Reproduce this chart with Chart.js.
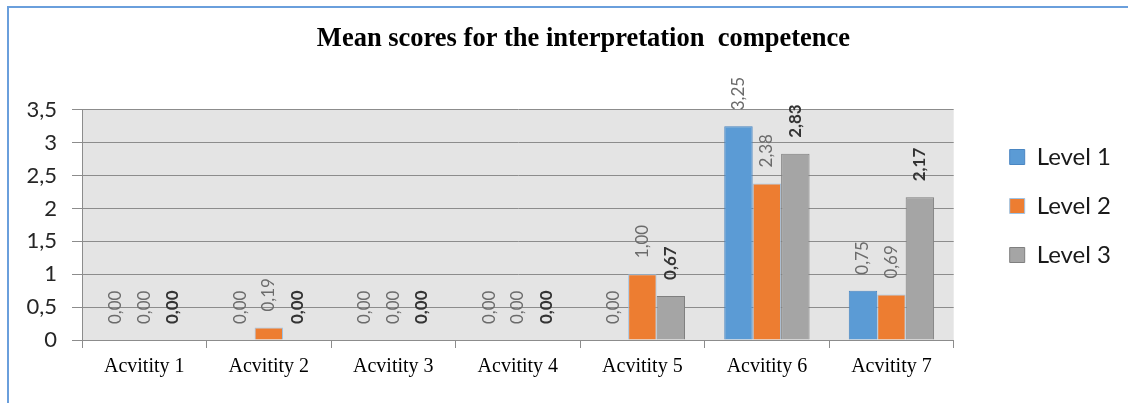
<!DOCTYPE html>
<html>
<head>
<meta charset="utf-8">
<script src="https://cdn.jsdelivr.net/npm/chart.js@4.4.1/dist/chart.umd.min.js"></script>
<style>
body { margin: 0; background: #fff; overflow: hidden; }
</style>
</head>
<body>
<canvas id="chartArea" width="1128" height="403"></canvas>
<script>
var categories = ['Acvitity 1', 'Acvitity 2', 'Acvitity 3', 'Acvitity 4', 'Acvitity 5', 'Acvitity 6', 'Acvitity 7'];
var level1 = [0, 0, 0, 0, 0, 3.25, 0.75];
var level2 = [0, 0.19, 0, 0, 1.00, 2.38, 0.69];
var level3 = [0, 0, 0, 0, 0.67, 2.83, 2.17];
var seriesNames = ['Level 1', 'Level 2', 'Level 3'];
var yTicks = [0, 0.5, 1, 1.5, 2, 2.5, 3, 3.5];

var fmt = function(v) {
	return v.toFixed(2).replace('.', ',');
}

// grey plot background + blue frame
var framePlugin = {
	id: 'frame',
	beforeDraw: function(chart) {
		var a = chart.chartArea;
		var ctx = chart.ctx;
		ctx.save();
		ctx.fillStyle = '#e4e4e4';
		ctx.fillRect(a.left, a.top, a.right - a.left, a.bottom - a.top);
		ctx.restore();
	},
	afterDraw: function(chart) {
		var ctx = chart.ctx;
		ctx.save();
		ctx.strokeStyle = '#6a9fdc';
		ctx.lineWidth = 2;
		ctx.beginPath();
		ctx.moveTo(8, 403);
		ctx.lineTo(8, 7);
		ctx.lineTo(1128, 7);
		ctx.stroke();
		ctx.restore();
	}
};

// move title and legend where the original has them
var placePlugin = {
	id: 'place',
	afterLayout: function(chart) {
		chart.titleBlock.left += 38.5;
		chart.titleBlock.right += 38.5;
		chart.legend.left += 31;
		chart.legend.right += 31;
		chart.legend.top += 120;
		chart.legend.bottom += 120;
	}
};

// rotated value labels above each bar
var labelPlugin = {
	id: 'barLabels',
	afterDatasetsDraw: function(chart) {
		var ctx = chart.ctx;
		chart.data.datasets.forEach(function(ds, i) {
			var meta = chart.getDatasetMeta(i);
			var bold = i == 2;
			meta.data.forEach(function(bar, j) {
				ctx.save();
				ctx.translate(bar.x, bar.y - 16);
				ctx.rotate(-Math.PI / 2);
				ctx.font = (bold ? 'bold ' : '') + '17px Lato';
				ctx.fillStyle = bold ? '#333333' : '#6b6b6b';
				ctx.textAlign = 'left';
				ctx.textBaseline = 'middle';
				ctx.fillText(fmt(ds.data[j]), 0, 0);
				ctx.restore();
			});
		});
	}
};

var myChart = new Chart(document.getElementById('chartArea'), {
	type: 'bar',
	data: {
		labels: categories,
		datasets: [
		{
			label: seriesNames[0],
			data: level1,
			backgroundColor: '#5b9bd5',
			borderColor: '#4a86c2',
			borderWidth: 1
		},
		{
			label: seriesNames[1],
			data: level2,
			backgroundColor: '#ed7d31',
			borderColor: '#9dc3e6',
			borderWidth: 1
		},
		{
			label: seriesNames[2],
			data: level3,
			backgroundColor: '#a5a5a5',
			borderColor: '#7f7f7f',
			borderWidth: 1
		}
		]
	},
	options: {
		responsive: false,
		animation: false,
		devicePixelRatio: 1,
		categoryPercentage: 0.685,
		barPercentage: 1,
		layout: { padding: { left: 0, right: 38, top: 0, bottom: 0 } },
		plugins: {
			title: {
				display: true,
				text: 'Mean scores for the interpretation  competence',
				font: { family: 'Liberation Serif', size: 26.5, weight: 'bold' },
				color: '#000',
				padding: { top: 23, bottom: 55 }
			},
			legend: {
				display: true,
				position: 'right',
				align: 'start',
				labels: {
					boxWidth: 15,
					boxHeight: 15,
					padding: 25,
					color: '#1a1a1a',
					font: { family: 'Lato', size: 24 }
				}
			},
			tooltip: { enabled: false }
		},
		scales: {
			x: {
				afterFit: function(scale) { scale.height = 63; },
				grid: {
					display: true,
					drawOnChartArea: false,
					color: '#8c8c8c',
					tickLength: 8,
					offset: true
				},
				border: { color: '#8c8c8c' },
				ticks: {
					color: '#000',
					padding: 7,
					font: { family: 'Liberation Serif', size: 20 }
				}
			},
			y: {
				min: 0,
				max: 3.5,
				afterFit: function(scale) { scale.width = 82; },
				afterBuildTicks: function(scale) {
					scale.ticks = yTicks.map(function(v) { return { value: v }; });
				},
				grid: {
					color: '#8c8c8c',
					tickLength: 10
				},
				border: { color: '#8c8c8c' },
				ticks: {
					color: '#262626',
					padding: 15,
					font: { family: 'Lato', size: 22 },
					callback: function(v) { return String(v).replace('.', ','); }
				}
			}
		}
	},
	plugins: [framePlugin, placePlugin, labelPlugin]
});
</script>
</body>
</html>
